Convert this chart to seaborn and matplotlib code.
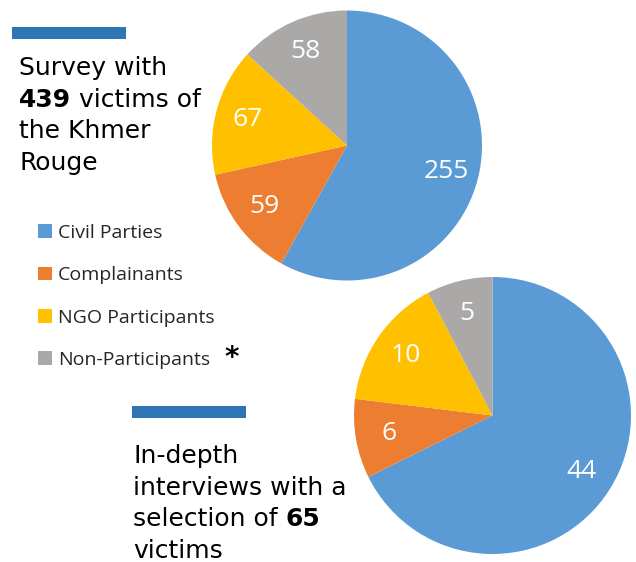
import matplotlib
matplotlib.use('Agg')
import matplotlib.pyplot as plt
from matplotlib.patches import Rectangle
import seaborn as sns

# Data
categories = ['Civil Parties', 'Complainants', 'NGO Participants', 'Non-Participants']
surveyCounts = [255, 59, 67, 58]
interviewCounts = [44, 6, 10, 5]
surveyTotal = 439
interviewTotal = 65

sns.set_theme(style='white')
palette = ['#5B9BD5', '#ED7D31', '#FFC000', '#ABA8A8']
barColor = '#2E75B6'
titleFont = 'DejaVu Sans'
labelFont = 'Open Sans'

W, H = 636, 562
fig = plt.figure(figsize=(W / 100, H / 100), dpi=100)
fig.patch.set_facecolor('white')


def pixelAxes(left, top, width, height):
    return fig.add_axes([left / W, 1 - (top + height) / H, width / W, height / H])


# overlay in pixel coordinates for the text blocks
textAx = fig.add_axes([0, 0, 1, 1])
textAx.set_xlim(0, W)
textAx.set_ylim(H, 0)
textAx.axis('off')
textAx.patch.set_alpha(0)


def drawPie(ax, counts, labelDist):
    total = sum(counts)
    wedges, _, texts = ax.pie(
        counts, colors=palette, startangle=90, counterclock=False,
        autopct=lambda p: f'{round(p * total / 100)}', pctdistance=labelDist,
        wedgeprops={'linewidth': 0},
        textprops={'color': 'white', 'fontsize': 19, 'family': labelFont})
    ax.set_xlim(-1, 1)
    ax.set_ylim(-1, 1)
    ax.set_aspect('equal')
    ax.axis('off')
    return wedges


def mixedLine(x, y, parts, size=18):
    # parts: list of (text, weight); drawn one after the other on one baseline
    prev = None
    for txt, weight in parts:
        if prev is None:
            prev = textAx.text(x, y, txt, fontsize=size, fontweight=weight,
                               family=titleFont, color='black', va='baseline')
        else:
            prev = textAx.annotate(txt, xy=(1, 0), xycoords=prev, fontsize=size,
                                   fontweight=weight, family=titleFont, color='black',
                                   va='bottom', ha='left')


# top block
textAx.add_patch(Rectangle((12, 27), 114, 12, color=barColor, lw=0))
topLines = [
    [('Survey with', 'normal')],
    [(str(surveyTotal), 'bold'), (' victims of', 'normal')],
    [('the Khmer', 'normal')],
    [('Rouge', 'normal')],
]
for i, parts in enumerate(topLines):
    mixedLine(19, 75.5 + 31.5 * i, parts)

# bottom block
textAx.add_patch(Rectangle((132, 406), 114, 12, color=barColor, lw=0))
bottomLines = [
    [('In-depth', 'normal')],
    [('interviews with a', 'normal')],
    [('selection of ', 'normal'), (str(interviewTotal), 'bold')],
    [('victims', 'normal')],
]
for i, parts in enumerate(bottomLines):
    mixedLine(133, 463 + 31.7 * i, parts)

# pies
topAx = pixelAxes(212, 10.5, 270, 270)
wedges = drawPie(topAx, surveyCounts, 0.76)
bottomAx = pixelAxes(354, 277, 277, 277)
drawPie(bottomAx, interviewCounts, 0.76)

# legend
textAx.legend(wedges, categories, loc='upper left', bbox_to_anchor=(38, 224),
              bbox_transform=textAx.transData, frameon=False, borderpad=0,
              borderaxespad=0, handlelength=0.7, handleheight=0.7,
              handletextpad=0.32, labelspacing=1.25,
              prop={'family': labelFont, 'size': 14}, labelcolor='#262626')
textAx.text(232, 358, '*', fontsize=20, fontweight='bold', color='black',
            ha='center', va='center')

fig.savefig('out.png', dpi=100, facecolor='white')
